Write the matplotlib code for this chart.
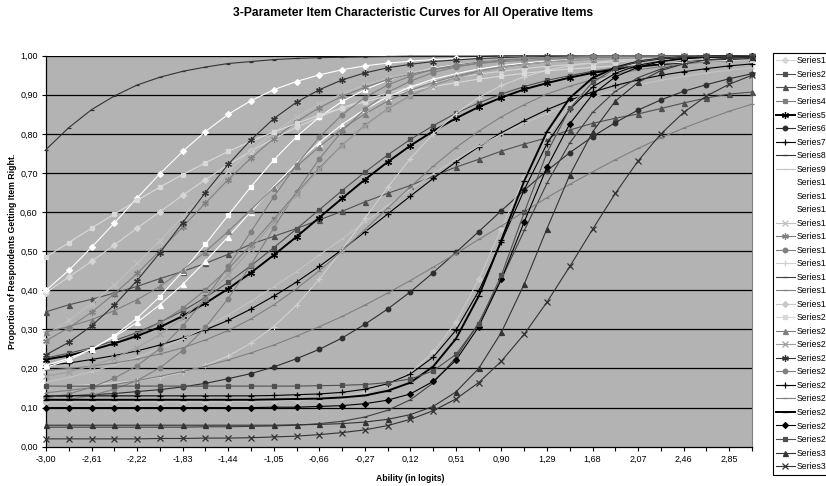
import matplotlib
matplotlib.use("Agg")
import matplotlib.pyplot as plt

plt.rcParams['font.family'] = ['Liberation Sans', 'DejaVu Sans']

# ability points (logits), one category per point
ability = [-3.00, -2.805, -2.61, -2.415, -2.22, -2.025, -1.83, -1.635, -1.44, -1.245,
           -1.05, -0.855, -0.66, -0.465, -0.27, -0.075, 0.12, 0.315, 0.51, 0.705,
           0.90, 1.095, 1.29, 1.485, 1.68, 1.875, 2.07, 2.265, 2.46, 2.655, 2.85, 3.045]

# proportion getting item right
series01 = [.394, .434, .474, .516, .559, .601, .643, .683, .721, .756, .788, .817, .843, .867, .887, .905,
            .920, .933, .944, .953, .960, .967, .973, .977, .981, .985, .987, .989, .991, .993, .994, .995]
series02 = [.227, .239, .253, .271, .292, .318, .347, .382, .420, .463, .509, .557, .606, .655, .702, .746,
            .786, .821, .853, .879, .902, .921, .937, .949, .960, .968, .975, .980, .984, .988, .990, .992]
series03 = [.345, .363, .377, .393, .410, .430, .448, .469, .492, .518, .538, .558, .580, .602, .626, .648,
            .668, .692, .715, .735, .756, .774, .790, .810, .827, .840, .851, .865, .879, .892, .902, .907]
series04 = [.225, .234, .247, .264, .287, .317, .354, .401, .455, .516, .582, .649, .713, .771, .822, .864,
            .898, .924, .944, .959, .970, .978, .985, .989, .992, .994, .995, .996, .997, .998, .998, .999]
series05 = [.223, .233, .247, .264, .283, .306, .334, .367, .404, .445, .490, .537, .586, .635, .683, .728,
            .770, .807, .840, .869, .893, .914, .930, .944, .956, .965, .972, .978, .983, .986, .989, .991]
series06 = [.128, .130, .133, .136, .141, .146, .153, .162, .174, .187, .204, .225, .249, .278, .313, .352,
            .396, .445, .497, .550, .604, .656, .706, .752, .793, .829, .861, .887, .909, .926, .941, .954]
series07 = [.208, .214, .223, .233, .245, .260, .278, .299, .323, .352, .385, .421, .461, .504, .549, .595,
            .641, .686, .728, .767, .803, .834, .862, .886, .907, .924, .938, .950, .959, .967, .974, .979]
series08 = [.760, .816, .862, .897, .925, .945, .960, .971, .980, .985, .990, .993, .995, .996, .997, .998,
            .999, .999, .999, .999, 1.0, 1.0, 1.0, 1.0, 1.0, 1.0, 1.0, 1.0, 1.0, 1.0, 1.0, 1.0]
series09 = [.165, .177, .192, .209, .229, .251, .276, .305, .337, .372, .409, .448, .490, .532, .574, .617,
            .658, .698, .735, .769, .799, .827, .852, .875, .894, .910, .925, .937, .947, .956, .963, .969]
series10 = [.400, .451, .510, .572, .636, .698, .755, .806, .850, .885, .913, .934, .951, .964, .974, .981,
            .986, .990, .993, .995, .996, .997, .998, .998, .999, .999, .999, 1.0, 1.0, 1.0, 1.0, 1.0]
series11 = [.203, .222, .249, .284, .329, .384, .448, .518, .592, .665, .733, .793, .843, .883, .913, .937,
            .955, .968, .977, .984, .988, .992, .994, .996, .997, .998, .998, .999, .999, .999, 1.0, 1.0]
series12 = [.208, .226, .250, .281, .318, .363, .415, .474, .537, .601, .665, .725, .778, .824, .863, .895,
            .920, .940, .954, .966, .975, .981, .986, .990, .992, .994, .996, .997, .998, .998, .999, .999]
series13 = [.287, .323, .366, .414, .469, .527, .588, .647, .704, .757, .804, .843, .876, .903, .925, .942,
            .956, .967, .975, .981, .985, .989, .992, .994, .995, .997, .997, .998, .999, .999, .999, .999]
series14 = [.271, .304, .344, .391, .443, .501, .562, .623, .683, .738, .788, .831, .867, .896, .919, .939,
            .953, .964, .973, .980, .985, .988, .991, .993, .995, .996, .997, .998, .998, .999, .999, .999]
series15 = [.114, .121, .131, .147, .169, .202, .246, .305, .379, .465, .559, .652, .736, .807, .863, .906,
            .935, .957, .971, .981, .987, .992, .994, .996, .997, .998, .999, .999, .999, 1.0, 1.0, 1.0]
series16 = [.154, .156, .159, .163, .169, .178, .190, .208, .232, .265, .307, .362, .428, .503, .584, .663,
            .737, .800, .852, .893, .924, .946, .963, .974, .982, .988, .992, .994, .996, .997, .998, .998]
series17 = [.050, .050, .050, .050, .050, .050, .050, .051, .051, .052, .053, .055, .059, .065, .076, .093,
            .120, .163, .228, .317, .429, .553, .674, .777, .855, .909, .944, .966, .980, .988, .993, .996]
series18 = [.195, .200, .206, .214, .224, .237, .253, .273, .297, .327, .363, .404, .450, .501, .555, .610,
            .665, .717, .765, .807, .844, .875, .902, .922, .939, .953, .964, .972, .979, .984, .987, .990]
series19 = [.115, .115, .115, .115, .115, .115, .115, .115, .115, .116, .117, .119, .122, .128, .139, .157,
            .189, .241, .319, .428, .558, .687, .796, .874, .926, .958, .976, .987, .993, .996, .998, .999]
series20 = [.485, .522, .559, .595, .630, .664, .696, .726, .755, .781, .805, .827, .848, .866, .882, .897,
            .910, .921, .931, .940, .948, .955, .961, .966, .970, .974, .978, .981, .983, .986, .988, .989]
series21 = [.293, .307, .325, .348, .376, .410, .452, .499, .551, .606, .662, .717, .767, .813, .851, .884,
            .911, .932, .948, .961, .971, .978, .984, .988, .991, .993, .995, .996, .997, .998, .998, .999]
series22 = [.180, .191, .207, .227, .253, .287, .329, .380, .440, .505, .575, .645, .710, .770, .821, .863,
            .897, .923, .943, .958, .969, .978, .984, .988, .992, .994, .996, .997, .998, .998, .999, .999]
series23 = [.235, .267, .309, .362, .425, .496, .573, .650, .722, .785, .839, .881, .913, .938, .956, .969,
            .978, .985, .989, .993, .995, .997, .998, .998, .999, .999, .999, 1.0, 1.0, 1.0, 1.0, 1.0]
series24 = [.124, .135, .152, .175, .207, .251, .308, .379, .461, .550, .639, .721, .792, .849, .893, .925,
            .948, .965, .976, .984, .989, .993, .995, .997, .998, .998, .999, .999, .999, 1.0, 1.0, 1.0]
series25 = [.130, .130, .130, .130, .130, .130, .130, .130, .130, .130, .131, .133, .135, .139, .147, .161,
            .186, .229, .298, .398, .524, .657, .775, .863, .920, .955, .976, .986, .993, .996, .997, .998]
series26 = [.138, .144, .151, .159, .169, .180, .192, .206, .222, .240, .260, .283, .307, .333, .362, .393,
            .425, .459, .494, .530, .565, .601, .637, .671, .703, .734, .763, .790, .815, .837, .858, .876]
series27 = [.120, .120, .120, .120, .120, .120, .120, .120, .120, .120, .121, .122, .123, .126, .131, .143,
            .164, .205, .276, .385, .529, .680, .806, .892, .943, .970, .985, .993, .996, .998, .999, .999]
series28 = [.100, .100, .100, .100, .100, .100, .100, .100, .100, .100, .101, .101, .103, .105, .110, .119,
            .135, .167, .221, .307, .429, .575, .715, .826, .901, .946, .971, .985, .992, .996, .998, .999]
series29 = [.155, .155, .155, .155, .155, .155, .155, .155, .155, .155, .155, .155, .156, .157, .159, .164,
            .173, .194, .236, .314, .439, .599, .752, .865, .932, .968, .985, .993, .997, .998, .999, 1.0]
series30 = [.055, .055, .055, .055, .055, .055, .055, .055, .055, .055, .055, .056, .057, .059, .063, .070,
            .082, .103, .140, .200, .293, .416, .558, .695, .805, .884, .932, .962, .979, .989, .994, .997]
series31 = [.020, .020, .020, .020, .020, .021, .021, .022, .022, .023, .025, .027, .031, .036, .043, .054,
            .070, .092, .122, .164, .219, .288, .370, .461, .556, .648, .731, .800, .855, .897, .927, .950]

all_series = [series01, series02, series03, series04, series05, series06, series07, series08,
              series09, series10, series11, series12, series13, series14, series15, series16,
              series17, series18, series19, series20, series21, series22, series23, series24,
              series25, series26, series27, series28, series29, series30, series31]

star = (6, 2, 0)
# (line colour, marker, marker size, line width) -- excel grayscale defaults
styles = [
    ('#d6d6d6', 'D', 3.0, 0.8), ('#505050', 's', 3.3, 0.8), ('#505050', '^', 3.6, 0.8),
    ('#808080', 's', 3.3, 0.8), ('#000000', star, 5.0, 1.4), ('#2e2e2e', 'o', 3.3, 0.8),
    ('#000000', '+', 4.5, 0.8), ('#333333', '_', 3.5, 0.8), ('#c4c4c4', '_', 3.5, 0.8),
    ('#ffffff', 'D', 3.0, 0.8), ('#ffffff', 's', 3.3, 0.8), ('#ffffff', '^', 3.6, 0.8),
    ('#c0c0c0', 'x', 3.8, 0.8), ('#808080', star, 4.8, 0.8), ('#808080', 'o', 3.3, 0.8),
    ('#d0d0d0', '+', 4.5, 0.8), ('#404040', '_', 3.5, 0.8), ('#808080', '_', 3.5, 0.8),
    ('#c8c8c8', 'D', 3.0, 0.8), ('#d9d9d9', 's', 3.3, 0.8), ('#808080', '^', 3.6, 0.8),
    ('#a0a0a0', 'x', 3.8, 0.8), ('#333333', star, 4.8, 0.8), ('#808080', 'o', 3.3, 0.8),
    ('#000000', '+', 4.5, 0.8), ('#808080', '_', 3.5, 0.8), ('#000000', '_', 4.5, 1.4),
    ('#000000', 'D', 3.0, 0.8), ('#505050', 's', 3.3, 0.8), ('#333333', '^', 3.6, 0.8),
    ('#333333', 'x', 3.8, 0.8),
]

fig = plt.figure(figsize=(8.26, 4.86), dpi=100)
ax = fig.add_axes([46 / 826, 1 - 446.7 / 486, (752 - 46) / 826, (446.7 - 55.7) / 486])
ax.set_facecolor('#b3b3b3')

pos = list(range(len(ability)))
for i, (vals, st) in enumerate(zip(all_series, styles)):
    col, mk, ms, lw = st
    ax.plot(pos, vals, color=col, marker=mk, markersize=ms, linewidth=lw,
            markerfacecolor=col, markeredgecolor=col, markeredgewidth=0.9,
            label='Series' + str(i + 1), zorder=3, clip_on=False)

ax.set_xlim(0, len(ability) - 1)
ax.set_ylim(0, 1)
ax.set_yticks([k / 10 for k in range(11)])
ax.set_yticklabels([('%.2f' % (k / 10)).replace('.', ',') for k in range(11)], fontsize=6.5)
ax.set_xticks(pos)
ax.set_xticklabels([('%.2f' % a).replace('.', ',') if j % 2 == 0 else '' for j, a in enumerate(ability)],
                   fontsize=6.5)
ax.tick_params(axis='both', direction='out', length=3, width=0.8, color='black', pad=3)
for k in range(1, 11):
    ax.axhline(k / 10, color='black', linewidth=0.9, zorder=1)

ax.spines['top'].set_visible(False)
ax.spines['right'].set_color('#808080')
ax.spines['left'].set_linewidth(0.9)
ax.spines['bottom'].set_linewidth(0.9)

fig.text(0.5, 1 - 13 / 486, '3-Parameter Item Characteristic Curves for All Operative Items',
         ha='center', va='center', fontsize=8.7, fontweight='bold')
fig.text(410 / 826, 1 - 478 / 486, 'Ability (in logits)',
         ha='center', va='center', fontsize=6.2, fontweight='bold')
fig.text(13 / 826, 1 - 251 / 486, 'Proportion of Respondents Getting Item Right.',
         ha='center', va='center', rotation=90, fontsize=6.3, fontweight='bold')

# legend runs past the right edge of the figure, as in the original
leg = fig.legend(loc='upper left', bbox_to_anchor=(773 / 826, 1 - 53 / 486), fontsize=6.2,
                 frameon=True, fancybox=False, edgecolor='black', framealpha=1, facecolor='white',
                 labelspacing=0.525, handlelength=2.1, handletextpad=0.3, borderpad=0.4,
                 borderaxespad=0)
leg.get_frame().set_linewidth(0.8)

fig.savefig('out.png', dpi=100)
